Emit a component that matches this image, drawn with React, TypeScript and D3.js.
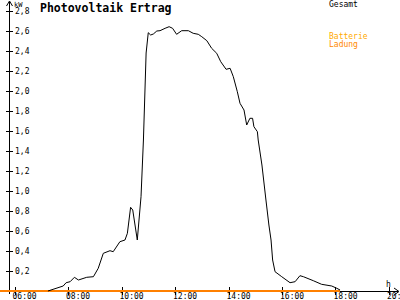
import React from "react";
import * as d3 from "d3";

const hours = [7.25, 7.82, 7.93, 8.08, 8.24, 8.39, 8.7, 8.95, 9.13, 9.32, 9.57, 9.69, 9.94, 10.13, 10.22, 10.34, 10.42, 10.59, 10.73, 10.82, 10.92, 11.0, 11.09, 11.19, 11.32, 11.44, 11.63, 11.78, 11.91, 12.06, 12.25, 12.5, 12.68, 12.87, 13.0, 13.19, 13.37, 13.56, 13.71, 13.91, 14.06, 14.18, 14.33, 14.43, 14.58, 14.68, 14.8, 14.9, 14.95, 15.08, 15.11, 15.25, 15.4, 15.51, 15.59, 15.65, 15.74, 15.99, 16.3, 16.49, 16.67, 16.8, 17.17, 17.48, 17.86, 18.05, 18.17];
const gesamt = [0, 0.05, 0.083, 0.093, 0.137, 0.11, 0.137, 0.143, 0.227, 0.377, 0.403, 0.393, 0.493, 0.51, 0.577, 0.837, 0.81, 0.51, 0.943, 1.51, 2.38, 2.583, 2.56, 2.57, 2.6, 2.603, 2.627, 2.643, 2.627, 2.567, 2.603, 2.603, 2.577, 2.567, 2.543, 2.503, 2.427, 2.377, 2.293, 2.217, 2.227, 2.143, 1.993, 1.877, 1.81, 1.66, 1.727, 1.727, 1.643, 1.593, 1.51, 1.26, 0.91, 0.66, 0.51, 0.31, 0.193, 0.143, 0.083, 0.093, 0.153, 0.143, 0.103, 0.067, 0.05, 0.027, 0.01];
const batterieHours = [5.46, 18.17];
const batterieLadung = [0, 0];
const xTicks = [6, 8, 10, 12, 14, 16, 18, 20];
const xTickLabels = ["06:00", "08:00", "10:00", "12:00", "14:00", "16:00", "18:00", "20:00"];
const yTicks = [0.2, 0.4, 0.6, 0.8, 1.0, 1.2, 1.4, 1.6, 1.8, 2.0, 2.2, 2.4, 2.6, 2.8];

const FONT = "'DejaVu Sans Mono', monospace";

export default function App() {
  const x = d3.scaleLinear().domain([6, 20]).range([14.5, 389]);
  const y = d3.scaleLinear().domain([0, 2.8]).range([291, 11]);
  const line = d3
    .line<[number, number]>()
    .x((d) => x(d[0]))
    .y((d) => y(d[1]));
  const gData: [number, number][] = hours.map((h, i) => [h, gesamt[i]]);
  const bData: [number, number][] = batterieHours.map((h, i) => [h, batterieLadung[i]]);
  const axisX = 9.5;
  const base = y(0);
  return (
    <svg
      width={400}
      height={300}
      style={{ position: "absolute", left: 0, top: 0, background: "#fff" }}
      fontFamily={FONT}
    >
      <rect x={0} y={0} width={400} height={300} fill="#fff" />
      {/* y axis */}
      <line x1={axisX} x2={axisX} y1={2} y2={294} stroke="#000" strokeWidth={1} shapeRendering="crispEdges" />
      <path d={`M${axisX - 3},${6} L${axisX},${1} L${axisX + 3},${6}`} fill="none" stroke="#000" strokeWidth={1} />
      {yTicks.map((t) => (
        <g key={t}>
          <line x1={6} x2={13} y1={Math.round(y(t)) + 0.5} y2={Math.round(y(t)) + 0.5} stroke="#000" shapeRendering="crispEdges" />
          <text x={15} y={y(t) + 3} fontSize={8} fill="#000">
            {t.toFixed(1).replace(".", ",")}
          </text>
        </g>
      ))}
      <text x={14} y={7} fontSize={7} fill="#000">kW</text>
      {/* x axis */}
      <line x1={x(18.17)} x2={398} y1={base + 0.5} y2={base + 0.5} stroke="#000" shapeRendering="crispEdges" />
      <path d={`M${394},${base - 3} L${399},${base + 0.5} L${394},${base + 4}`} fill="none" stroke="#000" strokeWidth={1} />
      {xTicks.map((t, i) => (
        <g key={t}>
          <line x1={Math.round(x(t)) + 0.5} x2={Math.round(x(t)) + 0.5} y1={287} y2={295} stroke="#000" shapeRendering="crispEdges" />
          <text x={x(t) - 2} y={299} fontSize={8} fill="#000">
            {xTickLabels[i]}
          </text>
        </g>
      ))}
      <text x={386} y={287} fontSize={8} fill="#000">h</text>
      {/* series */}
      <path d={line(bData) || ""} fill="none" stroke="#ff8000" strokeWidth={2} shapeRendering="crispEdges" />
      <path d={line(gData) || ""} fill="none" stroke="#000" strokeWidth={1} />
      {/* title & legend */}
      <text x={40} y={12} fontSize={11.5} fontWeight="bold" fill="#000">Photovoltaik Ertrag</text>
      <text x={329} y={7} fontSize={8} fill="#000">Gesamt</text>
      <text x={329} y={39} fontSize={8} fill="#ffaa00">Batterie</text>
      <text x={329} y={47} fontSize={8} fill="#ff8800">Ladung</text>
    </svg>
  );
}
